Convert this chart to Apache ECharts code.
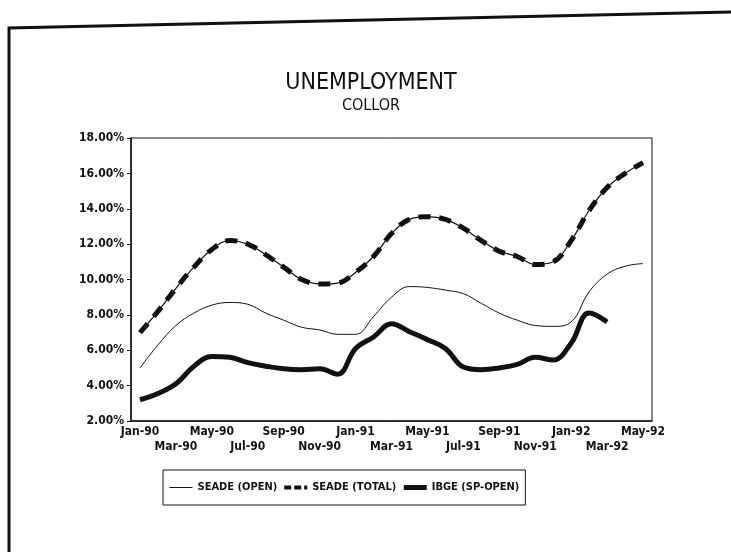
<!DOCTYPE html>
<html>
<head>
<meta charset="utf-8">
<title>Unemployment - Collor</title>
<script src="https://cdn.jsdelivr.net/npm/echarts@6/dist/echarts.min.js"></script>
<style>
  html, body { margin: 0; padding: 0; background: #fff; }
  #chart { width: 731px; height: 552px; }
</style>
</head>
<body>
<div id="chart"></div>
<script>
// months Jan-90 .. May-92
var months = ['Jan-90', 'Feb-90', 'Mar-90', 'Apr-90', 'May-90', 'Jun-90', 'Jul-90', 'Aug-90', 'Sep-90', 'Oct-90', 'Nov-90', 'Dec-90',
  'Jan-91', 'Feb-91', 'Mar-91', 'Apr-91', 'May-91', 'Jun-91', 'Jul-91', 'Aug-91', 'Sep-91', 'Oct-91', 'Nov-91', 'Dec-91',
  'Jan-92', 'Feb-92', 'Mar-92', 'Apr-92', 'May-92']

var seadeOpen = [5.0, 6.3, 7.4, 8.1, 8.55, 8.7, 8.6, 8.1, 7.7, 7.3, 7.15, 6.9,
  6.9, 7.9, 9.0, 9.6, 9.55, 9.4, 9.2, 8.65, 8.1, 7.7, 7.4, 7.35,
  7.6, 9.3, 10.3, 10.75, 10.9]

var seadeTotal = [7.0, 8.2, 9.5, 10.7, 11.7, 12.2, 12.0, 11.4, 10.7, 10.0, 9.75, 9.8,
  10.4, 11.3, 12.6, 13.4, 13.55, 13.4, 12.9, 12.2, 11.6, 11.3, 10.85, 11.0,
  12.2, 13.9, 15.2, 16.0, 16.6]

var ibgeOpen = [3.2, 3.55, 4.1, 5.1, 5.65, 5.6, 5.3, 5.1, 4.95, 4.9, 4.95, 4.65,
  6.1, 6.75, 7.5, 7.05, 6.6, 6.1, 5.05, 4.9, 5.0, 5.2, 5.6, 5.45,
  6.4, 8.1, 7.6, null, null]

var yMin = 2
var yMax = 18
var yStep = 2

var font = '"Liberation Sans Narrow", "DejaVu Sans Condensed", sans-serif'

var labelStyle = {
  fontFamily: font,
  fontSize: 12,
  fontWeight: 'bold',
  color: '#111'
}

var chart = echarts.init(document.getElementById('chart'))

chart.setOption({
  backgroundColor: '#fff',
  animation: false,
  color: ['#111', '#111', '#111', '#111'],
  title: {
    text: 'UNEMPLOYMENT',
    subtext: 'COLLOR',
    left: 366,
    textAlign: 'center',
    top: 67,
    itemGap: 3,
    textStyle: { fontFamily: font, fontSize: 23, fontWeight: 'normal', color: '#111' },
    subtextStyle: { fontFamily: font, fontSize: 16, color: '#111' }
  },
  legend: {
    left: 163,
    top: 470,
    padding: [12, 6, 12, 6],
    borderColor: '#111',
    borderWidth: 1,
    itemWidth: 23,
    itemHeight: 8,
    itemGap: 5,
    itemStyle: { opacity: 0 },
    data: [
      { name: 'SEADE (OPEN)', lineStyle: { width: 1 } },
      { name: 'SEADE (TOTAL)', lineStyle: { width: 4, type: [7, 3] } },
      { name: 'IBGE (SP-OPEN)', lineStyle: { width: 5 } }
    ],
    textStyle: { fontFamily: font, fontSize: 11, fontWeight: 'bold', color: '#111' }
  },
  grid: {
    left: 131,
    right: 79,
    top: 138,
    bottom: 131,
    show: true,
    borderColor: '#111',
    borderWidth: 1
  },
  xAxis: [
    {
      // first row of labels: Jan, May, Sep
      type: 'category',
      data: months,
      boundaryGap: true,
      axisLine: { lineStyle: { color: '#111', width: 1.5 } },
      axisTick: { alignWithLabel: true, interval: 0, length: 4, lineStyle: { color: '#111' } },
      axisLabel: Object.assign({
        margin: 5,
        interval: function(index) { return index % 4 === 0 }
      }, labelStyle),
      splitLine: { show: false }
    },
    {
      // second row: Mar, Jul, Nov
      type: 'category',
      data: months,
      position: 'bottom',
      boundaryGap: true,
      axisLine: { show: false },
      axisTick: { show: false },
      axisLabel: Object.assign({
        margin: 20,
        interval: function(index) { return index % 4 === 2 }
      }, labelStyle),
      splitLine: { show: false }
    }
  ],
  yAxis: {
    type: 'value',
    min: yMin,
    max: yMax,
    interval: yStep,
    axisLine: { show: true, lineStyle: { color: '#111', width: 1.5 } },
    axisTick: { show: true, length: 4, lineStyle: { color: '#111' } },
    axisLabel: Object.assign({
      margin: 7,
      formatter: function(v) { return v.toFixed(2) + '%' }
    }, labelStyle),
    splitLine: { show: false }
  },
  series: [
    {
      name: 'SEADE (OPEN)',
      type: 'line',
      data: seadeOpen,
      smooth: 0.4,
      symbol: 'none',
      lineStyle: { color: '#111', width: 1 }
    },
    {
      name: 'SEADE (TOTAL)',
      type: 'line',
      data: seadeTotal,
      smooth: 0.4,
      symbol: 'none',
      lineStyle: { color: '#111', width: 5, type: [12, 9] }
    },
    {
      // thin line running under the dashes
      name: 'SEADE (TOTAL)',
      type: 'line',
      data: seadeTotal,
      smooth: 0.4,
      symbol: 'none',
      lineStyle: { color: '#111', width: 1.2 }
    },
    {
      name: 'IBGE (SP-OPEN)',
      type: 'line',
      data: ibgeOpen,
      smooth: 0.4,
      symbol: 'none',
      connectNulls: false,
      lineStyle: { color: '#111', width: 5 }
    }
  ],
  graphic: [
    {
      // outer page frame (scanned sheet)
      type: 'polyline',
      shape: { points: [[9, 552], [9, 28], [731, 12]] },
      style: { stroke: '#111', lineWidth: 3, fill: null }
    }
  ]
})
</script>
</body>
</html>
